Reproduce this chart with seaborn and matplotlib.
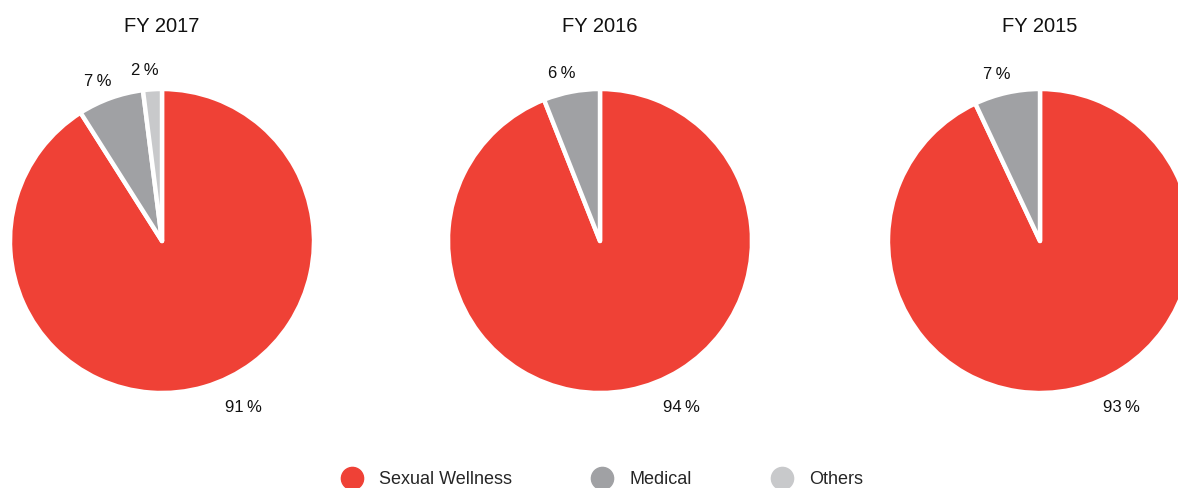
import numpy as np
import matplotlib

matplotlib.use("Agg")
import matplotlib.pyplot as plt
from matplotlib.lines import Line2D
import seaborn as sns


YEARS = ["FY 2017", "FY 2016", "FY 2015"]
SEGMENTS = ["Sexual Wellness", "Medical", "Others"]
SEXUAL_WELLNESS = [91, 94, 93]
MEDICAL = [7, 6, 7]
OTHERS = [2, 0, 0]

COLORS = ["#EF4136", "#A0A1A4", "#C8C9CB"]

sns.set_theme(style="white")
plt.rcParams["font.family"] = ["Liberation Sans", "DejaVu Sans"]

W, H = 1178, 488
R = 152
CENTERS = [162, 600, 1040]
CY = H - 241

fig = plt.figure(figsize=(W / 100, H / 100), dpi=100)

for i, year in enumerate(YEARS):
    vals = [SEXUAL_WELLNESS[i], MEDICAL[i], OTHERS[i]]
    keep = [k for k, v in enumerate(vals) if v > 0]
    vals_k = [vals[k] for k in keep]
    cols_k = [COLORS[k] for k in keep]

    ax = fig.add_axes([(CENTERS[i] - R) / W, (CY - R) / H, 2 * R / W, 2 * R / H])
    wedges, _ = ax.pie(
        vals_k,
        colors=cols_k,
        startangle=90,
        counterclock=False,
        radius=1,
        wedgeprops=dict(edgecolor="white", linewidth=3.2, joinstyle="round"),
    )
    ax.set_xlim(-1, 1)
    ax.set_ylim(-1, 1)
    ax.set_aspect("equal")
    ax.axis("off")

    for w, v in zip(wedges, vals_k):
        if v > 50:
            ang = np.deg2rad(-64)
            dist = 1.22
        else:
            ang = np.deg2rad((w.theta1 + w.theta2) / 2 + 2)
            dist = 1.13
        ax.text(dist * np.cos(ang), dist * np.sin(ang), f"{v}\u2009%",
                ha="center", va="center", fontsize=12, color="#111111")

    fig.text(CENTERS[i] / W, 1 - 27 / H, year, ha="center", va="center",
             fontsize=14.5, color="#111111")

handles = [
    Line2D([], [], marker="o", linestyle="", markersize=16,
           markerfacecolor=c, markeredgecolor=c)
    for c in COLORS
]
fig.legend(handles, SEGMENTS, loc="center", bbox_to_anchor=(0.511, 8 / H),
           ncol=3, frameon=False, fontsize=13, columnspacing=4.4,
           handletextpad=0.9, handlelength=1.2)

fig.savefig("out.png", dpi=100)
